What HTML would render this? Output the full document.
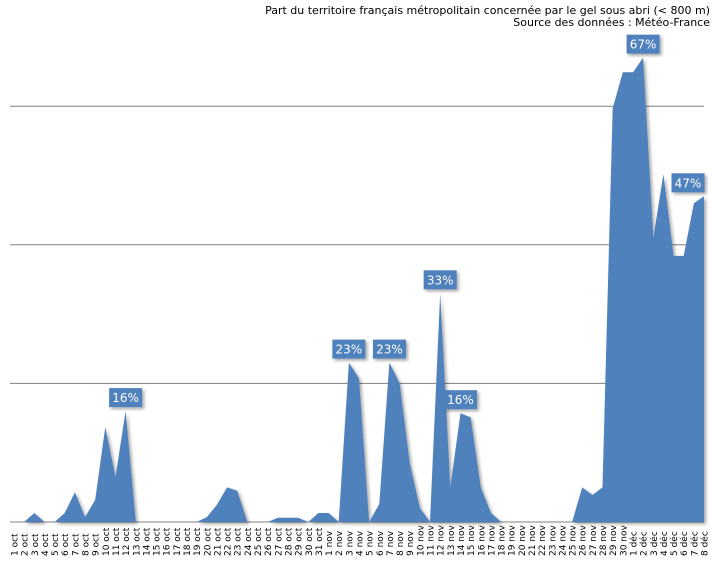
<!DOCTYPE html>
<html><head><meta charset="utf-8"><style>
body{margin:0;background:#fff;width:715px;height:557px;overflow:hidden;font-family:"DejaVu Sans","Liberation Sans",sans-serif}
</style></head><body>
<svg width="715" height="557" id="chart">
<defs><filter id="sh" x="-10%" y="-10%" width="130%" height="130%"><feDropShadow dx="2" dy="2" stdDeviation="1.5" flood-color="#000" flood-opacity="0.35"/></filter></defs>
<text x="710" y="14" text-anchor="end" font-size="11" fill="#000">Part du territoire français métropolitain concernée par le gel sous abri (&lt; 800 m)</text>
<text x="710" y="26" text-anchor="end" font-size="11" fill="#000">Source des données : Météo-France</text>
<g id="grid"></g><g id="area"></g><g id="xlabels"></g><g id="callouts"></g>
</svg>
<script>
const categories=["1 oct","2 oct","3 oct","4 oct","5 oct","6 oct","7 oct","8 oct","9 oct","10 oct","11 oct","12 oct","13 oct","14 oct","15 oct","16 oct","17 oct","18 oct","19 oct","20 oct","21 oct","22 oct","23 oct","24 oct","25 oct","26 oct","27 oct","28 oct","29 oct","30 oct","31 oct","1 nov","2 nov","3 nov","4 nov","5 nov","6 nov","7 nov","8 nov","9 nov","10 nov","11 nov","12 nov","13 nov","14 nov","15 nov","16 nov","17 nov","18 nov","19 nov","20 nov","21 nov","22 nov","23 nov","24 nov","25 nov","26 nov","27 nov","28 nov","29 nov","30 nov","1 déc","2 déc","3 déc","4 déc","5 déc","6 déc","7 déc","8 déc"];
const values=[0,0,1.3,0,0,1.3,4.3,0.7,3.2,13.7,6.5,16,0,0,0,0,0,0,0,0.7,2.5,5,4.5,0,0,0,0.6,0.6,0.6,0,1.3,1.3,0,23,20.7,0,2.6,23,20,8.5,2,0,33,5,15.7,15.1,5,1.3,0,0,0,0,0,0,0,0,5,3.9,5,59.7,64.9,64.9,67,41,50.2,38.4,38.4,46,47];
const gridTicks=[20,40,60];
const calloutIdx=[11,33,37,42,44,62,68];
const calloutText=["16%","23%","23%","33%","16%","67%","47%"];
const NS="http://www.w3.org/2000/svg";
const x0=14,x1=704,yB=522,pxPer=6.93;
const xs=i=>x0+(x1-x0)*i/(categories.length-1);
const ys=v=>yB-v*pxPer;
const g=document.getElementById('grid');
gridTicks.forEach(t=>{const l=document.createElementNS(NS,'line');


l.setAttribute('x1',10);l.setAttribute('x2',704);l.setAttribute('y1',ys(t));l.setAttribute('y2',ys(t));l.setAttribute('stroke','#808080');l.setAttribute('stroke-width','1');g.appendChild(l);});
let d='M'+xs(0)+' '+yB;values.forEach((v,i)=>{d+=' L'+xs(i).toFixed(1)+' '+ys(v).toFixed(1);});d+=' L'+xs(values.length-1)+' '+yB+' Z';
const p=document.createElementNS(NS,'path');


p.setAttribute('d',d);p.setAttribute('fill','#4f81bd');p.setAttribute('filter','url(#sh)');
document.getElementById('area').appendChild(p);
const b=document.createElementNS(NS,'line');


b.setAttribute('x1',10);b.setAttribute('x2',704);b.setAttribute('y1',yB);b.setAttribute('y2',yB);b.setAttribute('stroke','#808080');
document.getElementById('grid').appendChild(b);
const xl=document.getElementById('xlabels');
categories.forEach((c,i)=>{const t=document.createElementNS(NS,'text');


const x=xs(i)+3.5;t.setAttribute('x',x);t.setAttribute('y',556);t.setAttribute('font-size','9');t.setAttribute('transform','rotate(-90 '+x+' 556)');t.textContent=c;xl.appendChild(t);});
const cg=document.getElementById('callouts');
calloutIdx.forEach((idx,k)=>{const cx=xs(idx),cy=ys(values[idx]);const w=33,h=19;const bx=cx-w/2-(idx===68?16:0),by=cy-h-4;
const r=document.createElementNS(NS,'rect');


r.setAttribute('x',bx);r.setAttribute('y',by);r.setAttribute('width',w);r.setAttribute('height',h);r.setAttribute('fill','#4f81bd');r.setAttribute('filter','url(#sh)');cg.appendChild(r);
const t=document.createElementNS(NS,'text');


t.setAttribute('x',bx+w/2);t.setAttribute('y',by+14);t.setAttribute('text-anchor','middle');t.setAttribute('font-size','12');t.setAttribute('fill','#fff');t.textContent=calloutText[k];cg.appendChild(t);});
</script>
</body></html>
